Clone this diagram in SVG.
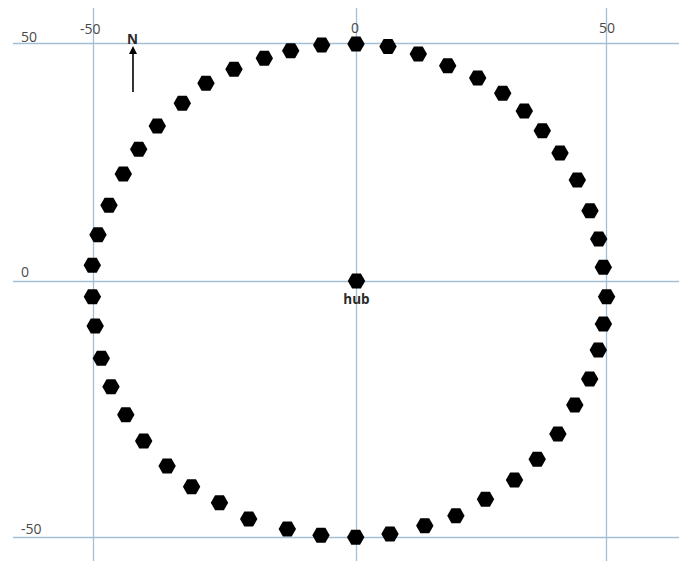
<svg xmlns="http://www.w3.org/2000/svg" xmlns:xlink="http://www.w3.org/1999/xlink" width="700" height="561" viewBox="0 0 700 561">
<style>
.grid{stroke:#a3bfd6;stroke-width:1.3;fill:none}
.ax{font-family:"Open Sans","Liberation Sans",sans-serif;font-size:14px;fill:#4a4a4a}
.lbl{font-family:"Open Sans","Liberation Sans",sans-serif;font-size:13.5px;font-weight:bold;fill:#2a2a2a}
.hex{fill:#000}
</style>
<defs>
<polygon id="hx" points="-8.7,0 -4.4,-7.5 4.4,-7.5 8.7,0 4.4,7.5 -4.4,7.5"/>
<marker id="ah" markerWidth="8" markerHeight="8" refX="4" refY="4" orient="auto" markerUnits="userSpaceOnUse">
<path d="M0,0 L8,4 L0,8 z" fill="#000"/>
</marker>
</defs>
<rect width="700" height="561" fill="#fff"/>
<g id="grid">
<line class="grid" x1="13" y1="43.5" x2="679" y2="43.5"/>
<line class="grid" x1="13" y1="281.5" x2="679" y2="281.5"/>
<line class="grid" x1="13" y1="537.5" x2="679" y2="537.5"/>
<line class="grid" x1="93.5" y1="8" x2="93.5" y2="561"/>
<line class="grid" x1="356.5" y1="8" x2="356.5" y2="561"/>
<line class="grid" x1="606.5" y1="8" x2="606.5" y2="561"/>
</g>
<g id="axis-labels">
<text class="ax" x="21" y="42">50</text>
<text class="ax" x="80" y="34">-50</text>
<text class="ax" x="351" y="33">0</text>
<text class="ax" x="599" y="33">50</text>
<text class="ax" x="21" y="277">0</text>
<text class="ax" x="21" y="534">-50</text>
</g>
<g id="connectors">
<line x1="133" y1="92" x2="133" y2="50" stroke="#000" stroke-width="1.6" marker-end="url(#ah)"/>
</g>
<g id="north"><text class="lbl" x="132.5" y="43.5" text-anchor="middle">N</text></g>
<g id="hub"><use class="hex" xlink:href="#hx" x="356.5" y="281"/><text class="lbl" x="356.5" y="303.5" text-anchor="middle">hub</text></g>
<g id="ring">
<g id="h0"><use class="hex" xlink:href="#hx" x="356" y="44"/></g>
<g id="h1"><use class="hex" xlink:href="#hx" x="388" y="46.5"/></g>
<g id="h2"><use class="hex" xlink:href="#hx" x="418.3" y="54"/></g>
<g id="h3"><use class="hex" xlink:href="#hx" x="447.7" y="65.7"/></g>
<g id="h4"><use class="hex" xlink:href="#hx" x="477.7" y="78"/></g>
<g id="h5"><use class="hex" xlink:href="#hx" x="502.7" y="93.3"/></g>
<g id="h6"><use class="hex" xlink:href="#hx" x="524.3" y="111"/></g>
<g id="h7"><use class="hex" xlink:href="#hx" x="542.3" y="130.7"/></g>
<g id="h8"><use class="hex" xlink:href="#hx" x="560" y="153"/></g>
<g id="h9"><use class="hex" xlink:href="#hx" x="577.3" y="180"/></g>
<g id="h10"><use class="hex" xlink:href="#hx" x="590" y="210.7"/></g>
<g id="h11"><use class="hex" xlink:href="#hx" x="598.7" y="239"/></g>
<g id="h12"><use class="hex" xlink:href="#hx" x="603.3" y="267.3"/></g>
<g id="h13"><use class="hex" xlink:href="#hx" x="606.6" y="296.7"/></g>
<g id="h14"><use class="hex" xlink:href="#hx" x="603.4" y="324"/></g>
<g id="h15"><use class="hex" xlink:href="#hx" x="598.3" y="350"/></g>
<g id="h16"><use class="hex" xlink:href="#hx" x="589.7" y="379"/></g>
<g id="h17"><use class="hex" xlink:href="#hx" x="574.8" y="405"/></g>
<g id="h18"><use class="hex" xlink:href="#hx" x="557.9" y="434"/></g>
<g id="h19"><use class="hex" xlink:href="#hx" x="537.2" y="459.3"/></g>
<g id="h20"><use class="hex" xlink:href="#hx" x="514.5" y="480"/></g>
<g id="h21"><use class="hex" xlink:href="#hx" x="485.5" y="499.3"/></g>
<g id="h22"><use class="hex" xlink:href="#hx" x="455.9" y="515.7"/></g>
<g id="h23"><use class="hex" xlink:href="#hx" x="424.8" y="525.7"/></g>
<g id="h24"><use class="hex" xlink:href="#hx" x="390" y="534"/></g>
<g id="h25"><use class="hex" xlink:href="#hx" x="355.7" y="537.3"/></g>
<g id="h26"><use class="hex" xlink:href="#hx" x="321" y="535.3"/></g>
<g id="h27"><use class="hex" xlink:href="#hx" x="287.3" y="529"/></g>
<g id="h28"><use class="hex" xlink:href="#hx" x="248.7" y="519"/></g>
<g id="h29"><use class="hex" xlink:href="#hx" x="219.5" y="502.7"/></g>
<g id="h30"><use class="hex" xlink:href="#hx" x="191.6" y="486.7"/></g>
<g id="h31"><use class="hex" xlink:href="#hx" x="167.1" y="466"/></g>
<g id="h32"><use class="hex" xlink:href="#hx" x="143.7" y="441"/></g>
<g id="h33"><use class="hex" xlink:href="#hx" x="125.8" y="414.7"/></g>
<g id="h34"><use class="hex" xlink:href="#hx" x="111" y="386.7"/></g>
<g id="h35"><use class="hex" xlink:href="#hx" x="101.3" y="358.3"/></g>
<g id="h36"><use class="hex" xlink:href="#hx" x="95.2" y="326"/></g>
<g id="h37"><use class="hex" xlink:href="#hx" x="92.4" y="296.7"/></g>
<g id="h38"><use class="hex" xlink:href="#hx" x="92.3" y="265.3"/></g>
<g id="h39"><use class="hex" xlink:href="#hx" x="98" y="234.7"/></g>
<g id="h40"><use class="hex" xlink:href="#hx" x="109" y="205.3"/></g>
<g id="h41"><use class="hex" xlink:href="#hx" x="123.3" y="174"/></g>
<g id="h42"><use class="hex" xlink:href="#hx" x="138.7" y="149.3"/></g>
<g id="h43"><use class="hex" xlink:href="#hx" x="157.3" y="126"/></g>
<g id="h44"><use class="hex" xlink:href="#hx" x="182.3" y="103.3"/></g>
<g id="h45"><use class="hex" xlink:href="#hx" x="206" y="83.3"/></g>
<g id="h46"><use class="hex" xlink:href="#hx" x="234" y="69.3"/></g>
<g id="h47"><use class="hex" xlink:href="#hx" x="264.3" y="58.3"/></g>
<g id="h48"><use class="hex" xlink:href="#hx" x="290.7" y="50.7"/></g>
<g id="h49"><use class="hex" xlink:href="#hx" x="321.7" y="45"/></g>
</g>
</svg>
